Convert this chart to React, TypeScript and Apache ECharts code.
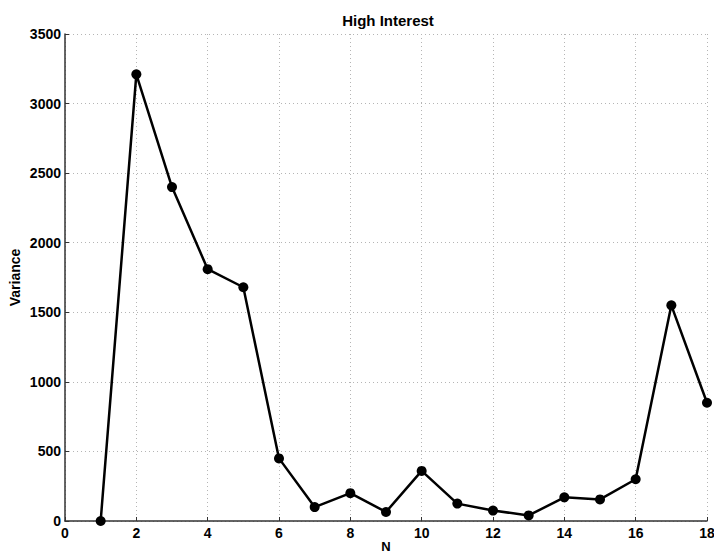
import React, { useEffect, useRef } from "react";
import * as echarts from "echarts";

const nValues: number[] = [1, 2, 3, 4, 5, 6, 7, 8, 9, 10, 11, 12, 13, 14, 15, 16, 17, 18];
const variance: number[] = [0, 3210, 2400, 1810, 1680, 450, 100, 200, 65, 360, 125, 75, 40, 170, 155, 300, 1550, 850];
const xTicks: number[] = [0, 2, 4, 6, 8, 10, 12, 14, 16, 18];
const yTicks: number[] = [0, 500, 1000, 1500, 2000, 2500, 3000, 3500];

export default function App() {
  const ref = useRef<HTMLDivElement>(null);

  useEffect(() => {
    if (!ref.current) return;
    const chart = echarts.init(ref.current, null, { renderer: "svg" });
    const font = "Liberation Sans, Arial, sans-serif";
    const gridLine = { show: true, lineStyle: { color: "#b5b5b5", type: [1, 3] as any, width: 1 } };
    chart.setOption({
      animation: false,
      backgroundColor: "#ffffff",
      title: {
        text: "High Interest",
        left: 383,
        top: 8,
        textAlign: "center",
        textStyle: { fontFamily: font, fontSize: 15, fontWeight: "bold", color: "#000" },
      },
      grid: { left: 65, right: 7, top: 34, bottom: 36, containLabel: false, outerBoundsMode: "none" },
      xAxis: {
        type: "value",
        min: xTicks[0],
        max: xTicks[xTicks.length - 1],
        interval: 2,
        name: "N",
        nameLocation: "middle",
        nameMoveOverlap: false,
        nameGap: 19,
        nameTextStyle: { fontFamily: font, fontSize: 13, fontWeight: "bold", color: "#000", lineHeight: 13 },
        axisLine: { show: true, lineStyle: { color: "#333", width: 1.5 } },
        axisTick: { show: true, inside: true, length: 4, lineStyle: { color: "#333" } },
        axisLabel: {
          fontFamily: font, fontSize: 14, fontWeight: "bold", color: "#000", margin: 5,
          formatter: (v: number) => (xTicks.includes(v) ? String(v) : ""),
        },
        splitLine: gridLine,
      },
      yAxis: {
        type: "value",
        min: yTicks[0],
        max: yTicks[yTicks.length - 1],
        interval: 500,
        name: "Variance",
        nameLocation: "middle",
        nameMoveOverlap: false,
        nameGap: 43,
        nameTextStyle: { fontFamily: font, fontSize: 14, fontWeight: "bold", color: "#000" },
        axisLine: { show: true, lineStyle: { color: "#333", width: 1.5 } },
        axisTick: { show: true, inside: true, length: 4, lineStyle: { color: "#333" } },
        axisLabel: {
          fontFamily: font, fontSize: 14, fontWeight: "bold", color: "#000", margin: 4,
          formatter: (v: number) => (yTicks.includes(v) ? String(v) : ""),
        },
        splitLine: gridLine,
      },
      series: [
        {
          type: "line",
          data: nValues.map((n, i) => [n, variance[i]]),
          symbol: "circle",
          symbolSize: 10,
          clip: false,
          lineStyle: { color: "#000", width: 2.5 },
          itemStyle: { color: "#000" },
        },
      ],
    });
    return () => chart.dispose();
  }, []);

  return <div ref={ref} style={{ width: 714, height: 557, position: "absolute", left: 0, top: 0 }} />;
}
